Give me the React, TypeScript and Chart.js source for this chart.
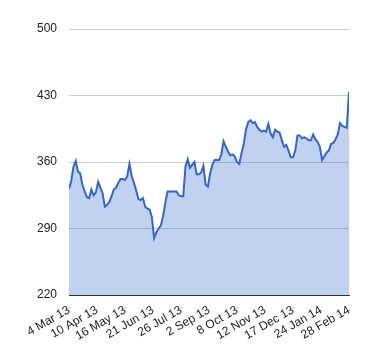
import { useEffect, useRef } from "react";
import { Chart, registerables } from "chart.js";

Chart.register(...registerables);

// Tick labels for the x axis (one every 25 trading days)
const dateLabels = [
  "4 Mar 13",
  "10 Apr 13",
  "16 May 13",
  "21 Jun 13",
  "26 Jul 13",
  "2 Sep 13",
  "8 Oct 13",
  "12 Nov 13",
  "17 Dec 13",
  "24 Jan 14",
  "28 Feb 14",
];
const labelEvery = 25; // trading days between labels
const dayStep = 2; // trading days between samples

// Y ticks
const yTicks = [220, 290, 360, 430, 500];

// Closing values, sampled every 2 trading days
const prices = [
  332, 340, 355, 361, 350, 348, 336, 329, 323, 322,
  331, 325, 328, 339, 333, 327, 313, 315, 318, 324,
  331, 333, 338, 342, 342, 341, 345, 358, 345, 338,
  330, 321, 320, 322, 313, 311, 310, 302, 280, 286,
  290, 293, 303, 317, 329, 329, 329, 329, 329, 325,
  324, 324, 355, 363, 354, 357, 360, 347, 347, 349,
  356, 336, 334, 348, 357, 362, 362, 362, 368, 382,
  376, 371, 367, 368, 366, 360, 358, 369, 379, 394,
  402, 404, 401, 402, 397, 394, 392, 393, 392, 400,
  390, 386, 394, 392, 391, 383, 376, 378, 372, 365,
  365, 372, 388, 388, 385, 386, 385, 383, 383, 389,
  384, 381, 376, 362, 366, 370, 372, 379, 380, 384,
  389, 401, 398, 397, 396, 434,
];

const FONT = "'Liberation Sans', Arial, sans-serif";

export default function App() {
  const ref = useRef<HTMLCanvasElement>(null);

  useEffect(() => {
    document.body.style.margin = "0";
    const canvas = ref.current;
    if (!canvas) return;
    const chart = new Chart(canvas, {
      type: "line",
      data: {
        datasets: [
          {
            data: prices.map((v, i) => ({ x: i * dayStep, y: v })),
            borderColor: "#3366cc",
            borderWidth: 2,
            backgroundColor: "rgba(51,102,204,0.3)",
            fill: "start",
            pointRadius: 0,
            tension: 0,
          },
        ],
      },
      options: {
        responsive: false,
        animation: false,
        layout: { padding: { top: 29, right: 31, left: 0, bottom: 0 } },
        plugins: {
          legend: { display: false },
          tooltip: { enabled: false },
        },
        scales: {
          x: {
            type: "linear",
            min: 0,
            max: (dateLabels.length - 1) * labelEvery,
            afterBuildTicks: (s: any) => {
              s.ticks = dateLabels.map((_, i) => ({ value: i * labelEvery }));
            },
            ticks: {
              autoSkip: false,
              minRotation: 30,
              maxRotation: 30,
              padding: 8,
              color: "#222",
              font: { family: FONT, size: 12 },
              callback: (v: any) => dateLabels[Math.round(Number(v) / labelEvery)],
            },
            grid: { drawOnChartArea: false, drawTicks: false },
            border: { display: true, color: "#333", width: 1 },
            afterFit: (s: any) => {
              s.height = 65;
            },
          },
          y: {
            min: 220,
            max: 500,
            afterBuildTicks: (s: any) => {
              s.ticks = yTicks.map((v) => ({ value: v }));
            },
            ticks: {
              padding: 12,
              color: "#222",
              font: { family: FONT, size: 12 },
            },
            grid: { color: "#cccccc", drawTicks: false },
            border: { display: false },
            afterFit: (s: any) => {
              s.width = 69;
            },
          },
        },
      },
    });
    return () => chart.destroy();
  }, []);

  return (
    <canvas
      ref={ref}
      width={380}
      height={360}
      style={{ display: "block", width: 380, height: 360 }}
    />
  );
}
